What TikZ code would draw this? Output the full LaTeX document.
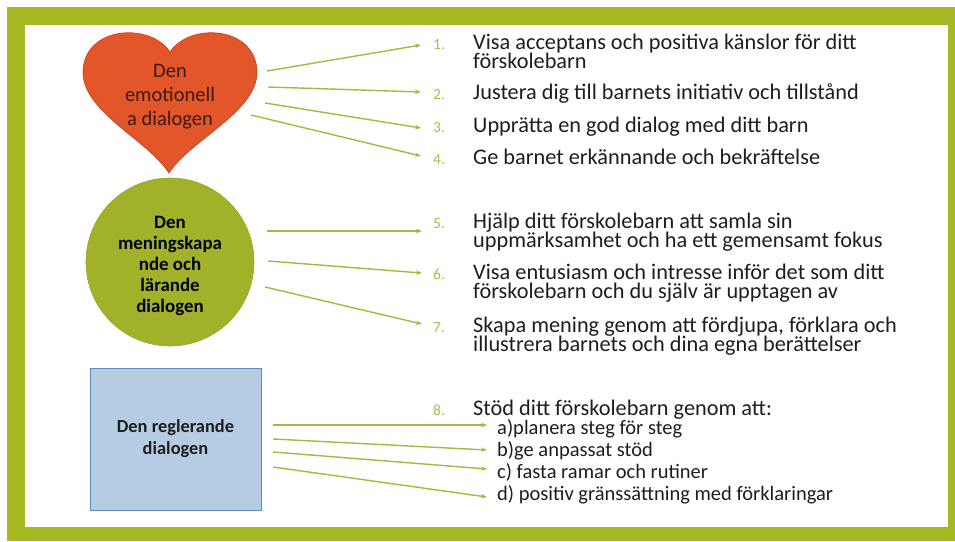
\documentclass[tikz,border=0pt]{standalone}
\usepackage{fontspec}
\setmainfont{Carlito}
\usetikzlibrary{arrows.meta}
\definecolor{framec}{RGB}{166,184,36}
\definecolor{heartc}{RGB}{226,86,42}
\definecolor{heartd}{RGB}{200,72,36}
\definecolor{hearttxt}{RGB}{62,26,16}
\definecolor{circc}{RGB}{161,178,42}
\definecolor{circd}{RGB}{150,168,40}
\definecolor{boxc}{RGB}{181,204,226}
\definecolor{boxd}{RGB}{96,136,184}
\definecolor{arrowc}{RGB}{160,188,64}
\definecolor{numc}{RGB}{170,190,80}
\definecolor{txtc}{RGB}{30,30,30}
\newcommand{\firststrut}{\rule{0pt}{18pt}}
\newcommand{\tightlines}{\setlength{\lineskiplimit}{-50pt}\setlength{\lineskip}{0pt}}
\begin{document}
\begin{tikzpicture}[x=1pt,y=-1pt,
  conn/.style={draw=arrowc, line width=1.4pt, -{Stealth[length=6pt,width=4.5pt]}},
  item/.style={anchor=north west, inner sep=0pt, align=left, text=txtc,
    font=\fontsize{22.3}{19}\selectfont\tightlines},
  subitem/.style={anchor=north west, inner sep=0pt, align=left, text=txtc,
    font=\fontsize{20.5}{22}\selectfont\tightlines},
  num/.style={anchor=base west, inner sep=0pt, font=\fontsize{15.5}{16}\selectfont, text=numc}]
\useasboundingbox (0,0) rectangle (955,541);
\fill[white] (0,0) rectangle (955,541);
\fill[framec] (7,7) rectangle (955,541);
\fill[white] (25,25) rectangle (948,527);

% heart
\filldraw[fill=heartc, draw=heartd, line width=0.8pt]
  (170,52) .. controls (150,22) and (84,26) .. (83,72)
  .. controls (83,112) and (148,140) .. (169,173)
  .. controls (190,140) and (257,112) .. (257,72)
  .. controls (256,26) and (190,22) .. (170,52) -- cycle;
\node[align=center, inner sep=0pt, text=hearttxt, font=\fontsize{20.5}{24}\selectfont] (heart) at (170,97) {Den\\emotionell\\a dialogen};

% circle
\node[circle, fill=circc, draw=circd, line width=0.6pt, minimum size=168pt, inner sep=0pt] (circ) at (170,262) {};
\node[align=center, inner sep=0pt, text=black, font=\bfseries\fontsize{18.9}{21}\selectfont] (circtxt) at (170,266) {Den\\meningskapa\\nde och\\lärande\\dialogen};

% box
\node[rectangle, fill=boxc, draw=boxd, line width=0.8pt, minimum width=171pt, minimum height=142pt, inner sep=0pt,
  align=center, text=txtc, font=\bfseries\fontsize{18.4}{22}\selectfont] (box) at (175.5,439) {Den reglerande\\dialogen};

% numbers
\node[num] (n1) at (433,49) {1.};
\node[num] (n2) at (433,99) {2.};
\node[num] (n3) at (433,132) {3.};
\node[num] (n4) at (433,164) {4.};
\node[num] (n5) at (433,228) {5.};
\node[num] (n6) at (433,279) {6.};
\node[num] (n7) at (433,332) {7.};
\node[num] (n8) at (433,415) {8.};

% texts (top = first baseline - 18)
\node[item] (t1) at (473,31) {\firststrut Visa acceptans och positiva känslor för ditt\\förskolebarn};
\node[item] (t2) at (473,81) {\firststrut Justera dig till barnets initiativ och tillstånd};
\node[item] (t3) at (473,114) {\firststrut Upprätta en god dialog med ditt barn};
\node[item] (t4) at (473,146) {\firststrut Ge barnet erkännande och bekräftelse};
\node[item] (t5) at (473,210) {\firststrut Hjälp ditt förskolebarn att samla sin\\uppmärksamhet och ha ett gemensamt fokus};
\node[item] (t6) at (473,261) {\firststrut Visa entusiasm och intresse inför det som ditt\\förskolebarn och du själv är upptagen av};
\node[item] (t7) at (473,314) {\firststrut Skapa mening genom att fördjupa, förklara och\\illustrera barnets och dina egna berättelser};
\node[item] (t8) at (473,397) {\firststrut Stöd ditt förskolebarn genom att:};
\node[subitem] (t8s) at (497,416) {\firststrut a)planera steg för steg\\b)ge anpassat stöd\\c) fasta ramar och rutiner\\d) positiv gränssättning med förklaringar};

% connector end points
\coordinate (h1s) at (267,71);  \coordinate (h1e) at (421,45);
\coordinate (h2s) at (268,87);  \coordinate (h2e) at (421,92);
\coordinate (h3s) at (265,103); \coordinate (h3e) at (421,128);
\coordinate (h4s) at (251,115); \coordinate (h4e) at (421,156);
\coordinate (c5s) at (267,231); \coordinate (c5e) at (422,231);
\coordinate (c6s) at (268,261); \coordinate (c6e) at (422,273);
\coordinate (c7s) at (265,287); \coordinate (c7e) at (422,324);
\coordinate (bas) at (273,425); \coordinate (bae) at (487,425);
\coordinate (bbs) at (273,439); \coordinate (bbe) at (487,450);
\coordinate (bcs) at (273,452); \coordinate (bce) at (487,469);
\coordinate (bds) at (273,467); \coordinate (bde) at (487,497);

\draw[conn] (h1s) -- (h1e);
\draw[conn] (h2s) -- (h2e);
\draw[conn] (h3s) -- (h3e);
\draw[conn] (h4s) -- (h4e);
\draw[conn] (c5s) -- (c5e);
\draw[conn] (c6s) -- (c6e);
\draw[conn] (c7s) -- (c7e);
\draw[conn] (bas) -- (bae);
\draw[conn] (bbs) -- (bbe);
\draw[conn] (bcs) -- (bce);
\draw[conn] (bds) -- (bde);
\end{tikzpicture}
\end{document}
